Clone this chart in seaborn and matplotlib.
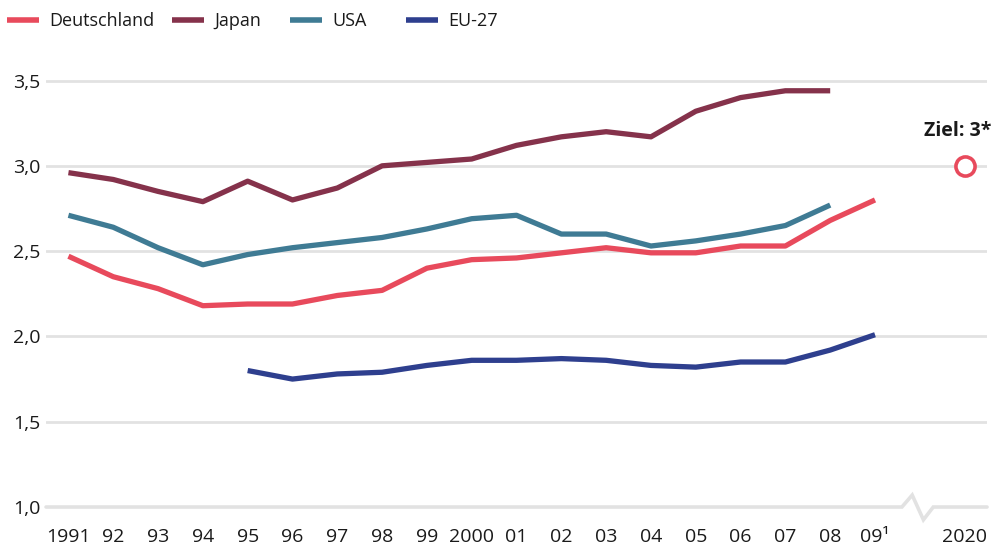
import numpy as np
import pandas as pd
import matplotlib.pyplot as plt
import seaborn as sns

# Daten: Bruttoinlandsausgaben für FuE in % des BIP
jahre = [1991, 1992, 1993, 1994, 1995, 1996, 1997, 1998, 1999, 2000,
         2001, 2002, 2003, 2004, 2005, 2006, 2007, 2008, 2009]
jahr_labels = ['1991', '92', '93', '94', '95', '96', '97', '98', '99', '2000',
               '01', '02', '03', '04', '05', '06', '07', '08', '09\u00b9']

deutschland = [2.47, 2.35, 2.28, 2.18, 2.19, 2.19, 2.24, 2.27, 2.40, 2.45,
               2.46, 2.49, 2.52, 2.49, 2.49, 2.53, 2.53, 2.68, 2.80]
japan = [2.96, 2.92, 2.85, 2.79, 2.91, 2.80, 2.87, 3.00, 3.02, 3.04,
         3.12, 3.17, 3.20, 3.17, 3.32, 3.40, 3.44, 3.44, np.nan]
usa = [2.71, 2.64, 2.52, 2.42, 2.48, 2.52, 2.55, 2.58, 2.63, 2.69,
       2.71, 2.60, 2.60, 2.53, 2.56, 2.60, 2.65, 2.77, np.nan]
eu27 = [np.nan, np.nan, np.nan, np.nan, 1.80, 1.75, 1.78, 1.79, 1.83, 1.86,
        1.86, 1.87, 1.86, 1.83, 1.82, 1.85, 1.85, 1.92, 2.01]

ziel_label = '2020'
ziel_wert = 3.0
ziel_text = 'Ziel: 3*'

y_ticks = [1.0, 1.5, 2.0, 2.5, 3.0, 3.5]

farben = {
    'Deutschland': '#e84a5c',
    'Japan': '#85324b',
    'USA': '#3f7b94',
    'EU-27': '#2e3f8e',
}
grau = '#e2e2e2'
text_farbe = '#1a1a1a'

sns.set_style('white')
plt.rcParams['font.family'] = ['Open Sans', 'DejaVu Sans']


def main():
    # Positionen: ein leerer Platz zwischen 2009 und 2020 (Achsenbruch)
    pos = list(range(len(jahre)))
    bruch_pos = len(jahre)
    ziel_pos = bruch_pos + 1

    df = pd.DataFrame({'pos': pos, 'Deutschland': deutschland, 'Japan': japan,
                       'USA': usa, 'EU-27': eu27})
    lang = df.melt(id_vars='pos', var_name='Land', value_name='wert').dropna()

    fig = plt.figure(figsize=(9.92, 5.46), dpi=100)
    ax = fig.add_axes([0.0464, 0.0714, 0.9486, 0.8186])

    # Gitterlinien
    for y in y_ticks[1:]:
        ax.axhline(y, color=grau, lw=2, zorder=0)

    sns.lineplot(data=lang, x='pos', y='wert', hue='Land', palette=farben,
                 hue_order=list(farben.keys()), lw=3.8, ax=ax, zorder=3,
                 solid_capstyle='butt', solid_joinstyle='round')

    # Ziel 2020
    sns.scatterplot(x=[ziel_pos], y=[ziel_wert], s=190, marker='o',
                    facecolor='white', edgecolor=farben['Deutschland'],
                    linewidth=2.6, ax=ax, zorder=4, legend=False)
    ax.annotate(ziel_text, xy=(ziel_pos, ziel_wert), xytext=(19.5, 25),
                textcoords='offset points', ha='right', va='center',
                fontsize=14, fontweight='bold', color=text_farbe)

    # x-Achse mit Bruch
    b = bruch_pos
    ax.plot([-0.5, b - 0.4, b - 0.17, b + 0.08, b + 0.3, ziel_pos + 0.5],
            [1.0, 1.0, 1.07, 0.925, 1.0, 1.0],
            color=grau, lw=2.6, clip_on=False, zorder=2, solid_joinstyle='miter')

    ax.set_xlim(-0.5, ziel_pos + 0.5)
    ax.set_ylim(1.0, 3.62)
    ax.set_xticks(pos + [ziel_pos])
    ax.set_xticklabels(jahr_labels + [ziel_label])
    grenzen = [p - 0.5 for p in pos] + [b - 0.5, ziel_pos - 0.5, ziel_pos + 0.5]
    ax.set_xticks(grenzen, minor=True)
    ax.tick_params(axis='x', which='major', length=0, pad=15,
                   labelsize=14, colors=text_farbe)
    ax.tick_params(axis='x', which='minor', length=6.5, width=1.8,
                   color=grau, direction='out')

    ax.set_yticks(y_ticks)
    ax.set_yticklabels([f'{v:.1f}'.replace('.', ',') for v in y_ticks])
    ax.tick_params(axis='y', length=0, pad=4, labelsize=14, colors=text_farbe)

    ax.set_xlabel('')
    ax.set_ylabel('')
    for s in ax.spines.values():
        s.set_visible(False)

    # Legende: jeder Eintrag an eigener Position
    handles, labels = ax.get_legend_handles_labels()
    ax.get_legend().remove()
    legend_x = [7, 172, 290, 406]
    for h, l, x in zip(handles, labels, legend_x):
        leg = fig.legend([h], [l], loc='upper left',
                         bbox_to_anchor=(x / 992, 0.978), frameon=False,
                         handlelength=1.77, handletextpad=0.55, fontsize=13,
                         borderpad=0, borderaxespad=0, labelcolor=text_farbe)
        for line in leg.get_lines():
            line.set_linewidth(4)
            line.set_solid_capstyle('butt')

    fig.savefig('out.png', dpi=100)


if __name__ == "__main__":
    main()
